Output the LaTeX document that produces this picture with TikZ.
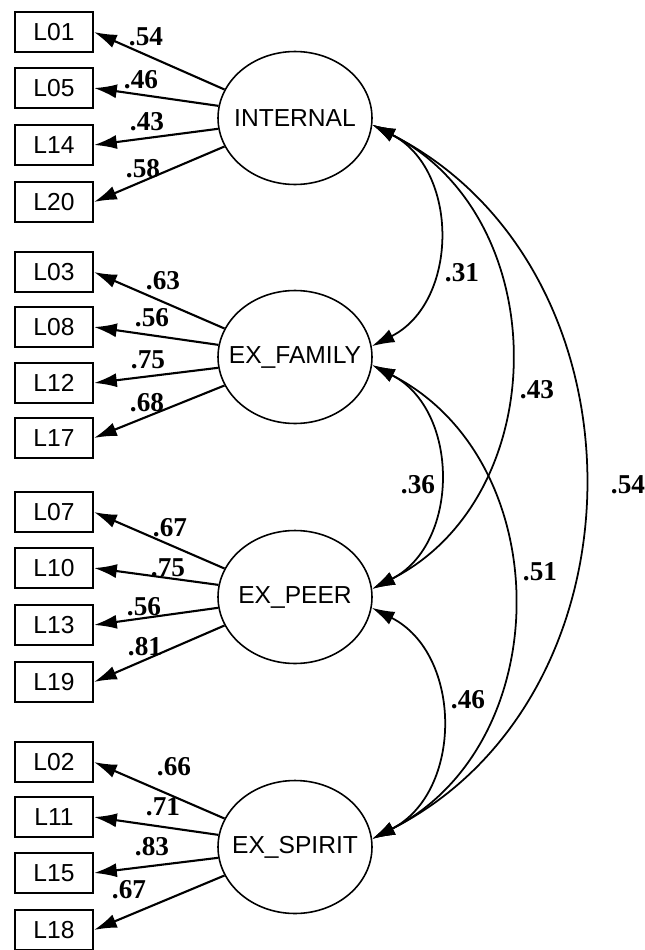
\documentclass[tikz,border=0pt]{standalone}
\usepackage{fontspec}
\setmainfont{Liberation Serif}
\setsansfont{Liberation Sans}
\usetikzlibrary{arrows.meta,shapes.geometric}

\tikzset{
	item/.style={draw,line width=1.1pt,minimum width=1.56cm,minimum height=0.8cm,inner sep=0pt,font=\sffamily\fontsize{14}{16}\selectfont},
	factor/.style={draw,ellipse,line width=0.9pt,minimum width=3.08cm,minimum height=2.66cm,inner xsep=-9pt,inner ysep=0pt,font=\sffamily\fontsize{14}{16}\selectfont},
	load/.style={-{Latex[length=13pt,width=8pt]},line width=1.2pt},
	cov/.style={{Latex[length=13pt,width=8pt]}-{Latex[length=13pt,width=8pt]},line width=1pt,bend left=63,looseness=1.13},
	coef/.style={font=\bfseries\fontsize{15.5}{17}\selectfont,inner sep=0pt}
}

\begin{document}
\begin{tikzpicture}[x=0.02cm,y=-0.02cm]
		\useasboundingbox (0,0) rectangle (645,950);
		% latent factors
		\node[factor] (int) at (295,118) {INTERNAL};
		\node[factor] (fam) at (295,357) {EX\_FAMILY};
		\node[factor] (peer) at (295,597) {EX\_PEER};
		\node[factor] (spi) at (295,847) {EX\_SPIRIT};
		% indicators
		\node[item] (L01) at (54,32) {L01};
		\node[item] (L05) at (54,88) {L05};
		\node[item] (L14) at (54,145) {L14};
		\node[item] (L20) at (54,202) {L20};
		\node[item] (L03) at (54,272) {L03};
		\node[item] (L08) at (54,327) {L08};
		\node[item] (L12) at (54,383) {L12};
		\node[item] (L17) at (54,438) {L17};
		\node[item] (L07) at (54,512) {L07};
		\node[item] (L10) at (54,568) {L10};
		\node[item] (L13) at (54,625) {L13};
		\node[item] (L19) at (54,682) {L19};
		\node[item] (L02) at (54,762) {L02};
		\node[item] (L11) at (54,817) {L11};
		\node[item] (L15) at (54,873) {L15};
		\node[item] (L18) at (54,930) {L18};
		% loadings
		\draw[load] (int.158) -- (L01.east);
		\draw[load] (int.171) -- (L05.east);
		\draw[load] (int.188) -- (L14.east);
		\draw[load] (int.202) -- (L20.east);
		\draw[load] (fam.158) -- (L03.east);
		\draw[load] (fam.171) -- (L08.east);
		\draw[load] (fam.188) -- (L12.east);
		\draw[load] (fam.202) -- (L17.east);
		\draw[load] (peer.158) -- (L07.east);
		\draw[load] (peer.171) -- (L10.east);
		\draw[load] (peer.188) -- (L13.east);
		\draw[load] (peer.202) -- (L19.east);
		\draw[load] (spi.158) -- (L02.east);
		\draw[load] (spi.171) -- (L11.east);
		\draw[load] (spi.188) -- (L15.east);
		\draw[load] (spi.202) -- (L18.east);
		\node[coef] (w01) at (146,37) {.54};
		\node[coef] (w05) at (141,80) {.46};
		\node[coef] (w14) at (147,122) {.43};
		\node[coef] (w20) at (143,169) {.58};
		\node[coef] (w03) at (163,281) {.63};
		\node[coef] (w08) at (152,318) {.56};
		\node[coef] (w12) at (148,360) {.75};
		\node[coef] (w17) at (147,403) {.68};
		\node[coef] (w07) at (170,528) {.67};
		\node[coef] (w10) at (168,568) {.75};
		\node[coef] (w13) at (144,607) {.56};
		\node[coef] (w19) at (145,647) {.81};
		\node[coef] (w02) at (174,767) {.66};
		\node[coef] (w11) at (163,807) {.71};
		\node[coef] (w15) at (152,847) {.83};
		\node[coef] (w18) at (129,890) {.67};
		% correlations
		\draw[cov] (int.-5) to (fam.8);
		\draw[cov] (int.-5) to (peer.6);
		\draw[cov] (int.-5) to (spi.6);
		\draw[cov] (fam.-6) to (peer.6);
		\draw[cov] (fam.-6) to (spi.6);
		\draw[cov] (peer.-8) to (spi.6);
		\node[coef] (r12) at (462,273) {.31};
		\node[coef] (r13) at (537,390) {.43};
		\node[coef] (r14) at (628,485) {.54};
		\node[coef] (r23) at (418,485) {.36};
		\node[coef] (r24) at (540,572) {.51};
		\node[coef] (r34) at (468,700) {.46};
	\end{tikzpicture}
\end{document}
